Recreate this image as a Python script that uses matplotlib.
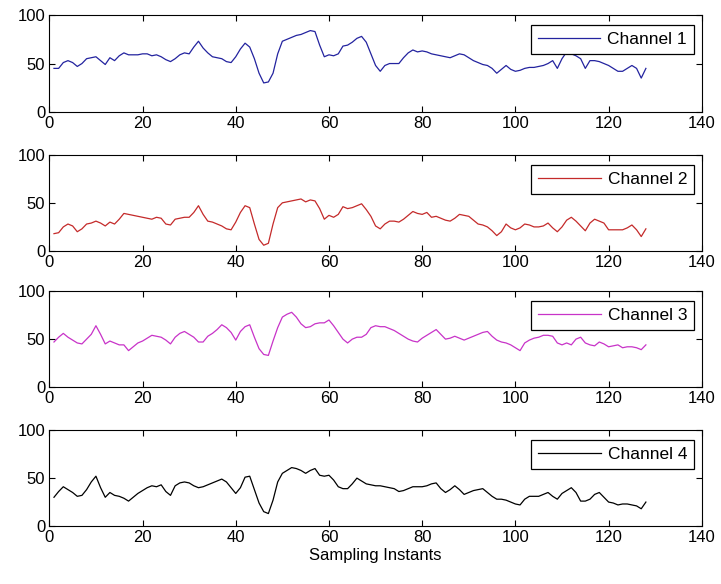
import numpy as np
import matplotlib
matplotlib.use("Agg")
from matplotlib import pyplot as plt

# sample index 1..128
samples = np.arange(1, 129)

channel1 = [45, 45, 51, 53, 51, 47, 50, 55, 56, 57, 53, 49, 56, 53, 58, 61,
            59, 59, 59, 60, 60, 58, 59, 57, 54, 52, 55, 59, 61, 60, 67, 73,
            66, 61, 57, 56, 55, 52, 51, 57, 65, 71, 67, 55, 40, 30, 31, 40,
            60, 73, 75, 77, 79, 80, 82, 84, 83, 69, 57, 59, 58, 60, 68, 69,
            72, 76, 78, 72, 60, 48, 42, 48, 50, 50, 50, 56, 61, 64, 62, 63,
            62, 60, 59, 58, 57, 56, 58, 60, 59, 56, 53, 51, 49, 48, 45, 40,
            44, 48, 44, 42, 43, 45, 46, 46, 47, 48, 50, 53, 45, 55, 62, 60,
            58, 55, 45, 53, 53, 52, 50, 48, 45, 42, 42, 45, 48, 45, 35, 45]

channel2 = [18, 19, 25, 28, 26, 20, 23, 28, 29, 31, 29, 26, 30, 28, 33, 39,
            38, 37, 36, 35, 34, 33, 35, 34, 28, 27, 33, 34, 35, 35, 40, 47,
            38, 31, 30, 28, 26, 23, 22, 30, 40, 47, 45, 28, 12, 6, 8, 28,
            45, 50, 51, 52, 53, 54, 51, 53, 52, 44, 33, 37, 35, 38, 46, 44,
            45, 47, 49, 43, 36, 26, 23, 28, 31, 31, 30, 33, 37, 41, 39, 38,
            40, 35, 36, 34, 32, 31, 34, 38, 37, 36, 32, 28, 27, 25, 21, 16,
            20, 28, 24, 22, 24, 28, 27, 25, 25, 26, 29, 24, 20, 25, 32, 35,
            31, 26, 21, 29, 33, 31, 29, 22, 22, 22, 22, 24, 27, 22, 15, 23]

channel3 = [47, 52, 56, 52, 49, 46, 45, 50, 55, 64, 55, 45, 48, 46, 44, 44,
            38, 42, 46, 48, 51, 54, 53, 52, 49, 45, 52, 56, 58, 55, 52, 47,
            47, 53, 56, 60, 65, 62, 57, 49, 58, 63, 65, 52, 40, 34, 33, 48,
            62, 73, 76, 78, 73, 66, 62, 63, 66, 67, 67, 70, 64, 57, 50, 46,
            50, 52, 52, 55, 62, 64, 63, 63, 61, 59, 56, 53, 50, 48, 47, 51,
            54, 57, 60, 55, 50, 51, 53, 51, 49, 51, 53, 55, 57, 58, 53, 49,
            47, 46, 44, 41, 38, 46, 49, 51, 52, 54, 54, 53, 46, 44, 46, 44,
            50, 52, 46, 44, 43, 47, 45, 42, 43, 44, 41, 42, 42, 41, 39, 44]

channel4 = [30, 36, 41, 38, 35, 31, 32, 38, 46, 52, 40, 30, 35, 32, 31, 29,
            26, 30, 34, 37, 40, 42, 41, 43, 36, 32, 42, 45, 46, 45, 42, 40,
            41, 43, 45, 47, 49, 46, 40, 34, 40, 51, 52, 38, 24, 15, 13, 27,
            46, 55, 58, 61, 60, 58, 55, 58, 60, 53, 52, 53, 48, 41, 39, 39,
            44, 50, 47, 44, 43, 42, 42, 41, 40, 39, 36, 37, 39, 41, 41, 41,
            42, 44, 45, 39, 35, 38, 42, 38, 33, 35, 37, 38, 39, 35, 31, 28,
            28, 27, 25, 23, 22, 28, 31, 31, 31, 33, 35, 31, 28, 34, 37, 40,
            35, 26, 26, 28, 33, 35, 30, 25, 24, 22, 23, 23, 22, 21, 18, 25]

series = [channel1, channel2, channel3, channel4]
labels = ['Channel 1', 'Channel 2', 'Channel 3', 'Channel 4']
colors = ['#23239f', '#c42a2a', '#c833c8', '#000000']

xticks = [0, 20, 40, 60, 80, 100, 120, 140]
yticks = [0, 50, 100]

tick_font = ['Liberation Sans Narrow', 'Liberation Sans', 'DejaVu Sans']
plt.rcParams['font.family'] = tick_font

fig = plt.figure(figsize=(7.21, 5.84), dpi=100)

# axes rectangles (left, bottom, width, height) in figure fraction
rects = [(0.0684, 0.8082, 0.905, 0.166),
         (0.0684, 0.5702, 0.905, 0.165),
         (0.0684, 0.3373, 0.905, 0.164),
         (0.0684, 0.0993, 0.905, 0.164)]

for i in range(4):
    ax = fig.add_axes(rects[i])
    ax.plot(samples, series[i], color=colors[i], lw=0.9, label=labels[i])
    ax.set_xlim(0, 140)
    ax.set_ylim(0, 100)
    ax.set_xticks(xticks)
    ax.set_yticks(yticks)
    ax.tick_params(direction='in', length=4, width=0.8, top=True, right=True,
                   labelsize=12, pad=3)
    for sp in ax.spines.values():
        sp.set_linewidth(0.8)
    leg = ax.legend(loc='upper right', bbox_to_anchor=(0.988, 0.897),
                    borderaxespad=0, fancybox=False, framealpha=1,
                    edgecolor='black', handlelength=3.6, handletextpad=0.4,
                    prop={'family': 'Liberation Sans', 'size': 12.5})
    leg.get_frame().set_linewidth(0.9)

ax.set_xlabel('Sampling Instants', fontsize=12, labelpad=2)

fig.savefig('out.png', dpi=100)
